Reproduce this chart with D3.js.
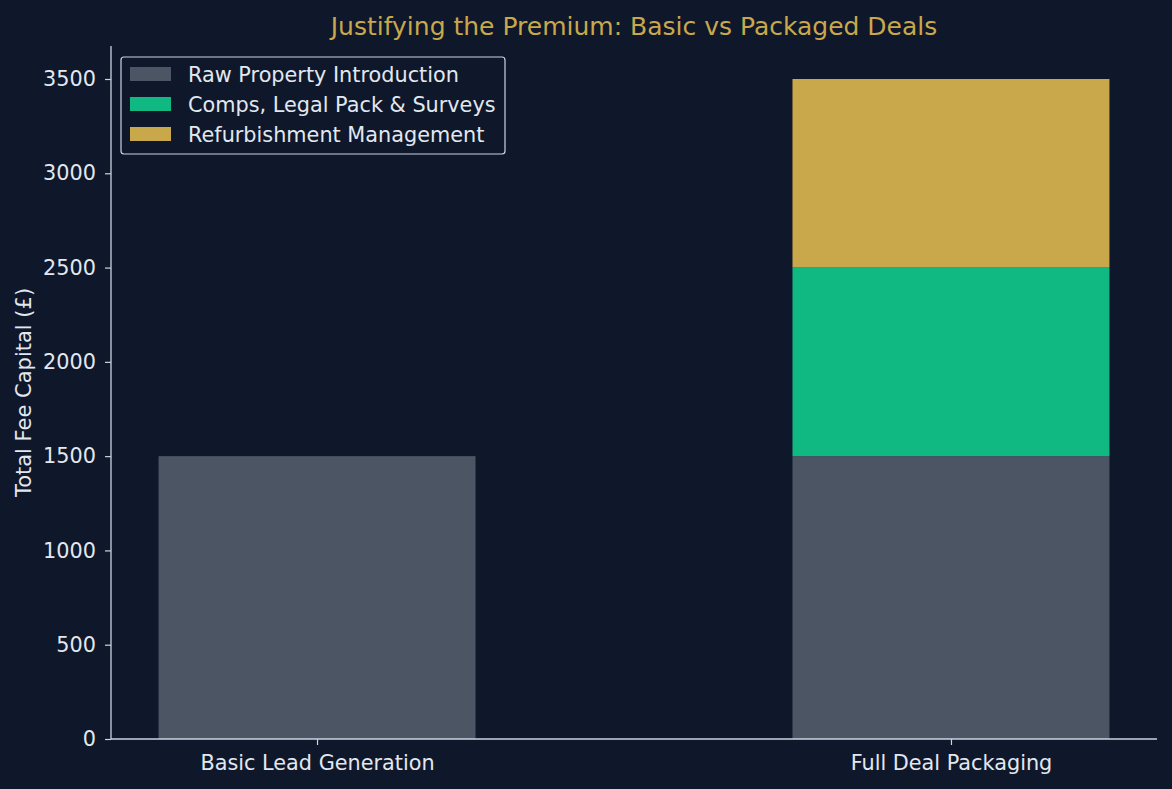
<!DOCTYPE html>
<html><head><meta charset="utf-8">
<script src="https://cdn.jsdelivr.net/npm/d3@7"></script>
<style>
html,body{margin:0;padding:0;background:#0f172a;}
svg{display:block;font-family:"DejaVu Sans",sans-serif;}
</style></head>
<body>
<svg id="chart" width="1172" height="789"></svg>
<script>
const categories = ["Basic Lead Generation", "Full Deal Packaging"];
const seriesNames = ["Raw Property Introduction", "Comps, Legal Pack & Surveys", "Refurbishment Management"];
const rawIntro = [1500, 1500];
const compsLegal = [0, 1000];
const refurb = [0, 1000];
const yTicks = [0, 500, 1000, 1500, 2000, 2500, 3000, 3500];
const colors = ["#4b5563", "#10b981", "#c9a84c"];

const W = 1172, H = 789;
const m = {left: 111, right: 1157, top: 46, bottom: 739};
const svg = d3.select("#chart");
svg.append("rect").attr("width", W).attr("height", H).attr("fill", "#0f172a");

const series = [rawIntro, compsLegal, refurb];
const rows = categories.map((c, i) => {
  const o = {cat: c};
  seriesNames.forEach((s, j) => o[s] = series[j][i]);
  return o;
});
const stacked = d3.stack().keys(seriesNames)(rows);
const maxV = d3.max(stacked[stacked.length - 1], d => d[1]);

const y = d3.scaleLinear().domain([0, maxV * 1.05]).range([m.bottom, m.top]);
const xc = d3.scaleLinear().domain([-0.325, categories.length - 1 + 0.325]).range([m.left, m.right]);
const barW = xc(0.5) - xc(0);

const g = svg.append("g");
stacked.forEach((layer, j) => {
  g.selectAll(null).data(layer.filter(d => d[1] - d[0] > 0)).enter().append("rect")
    .attr("x", d => xc(categories.indexOf(d.data.cat)) - barW / 2)
    .attr("width", barW)
    .attr("y", d => y(d[1]))
    .attr("height", d => y(d[0]) - y(d[1]))
    .attr("fill", colors[j]);
});

const txt = "#e2e8f0", spine = "#cbd5e1";
const FS = 20.8;
// y axis
const yAxis = d3.axisLeft(y).tickValues(yTicks).tickSize(6).tickPadding(9).tickFormat(d3.format("d"));
const ya = svg.append("g").attr("transform", `translate(${m.left},0)`).call(yAxis);
ya.attr("font-family", "DejaVu Sans").attr("font-size", FS);
ya.select(".domain").attr("stroke", spine).attr("stroke-width", 1.3).attr("d", `M0,${m.top}V${m.bottom}`);
ya.selectAll(".tick line").attr("stroke", spine).attr("stroke-width", 1.2);
ya.selectAll(".tick text").attr("fill", txt);

// x axis
const xAxis = d3.axisBottom(xc).tickValues(categories.map((c, i) => i)).tickSize(6).tickPadding(10).tickFormat(i => categories[i]);
const xa = svg.append("g").attr("transform", `translate(0,${m.bottom})`).call(xAxis);
xa.attr("font-family", "DejaVu Sans").attr("font-size", FS);
xa.select(".domain").attr("stroke", spine).attr("stroke-width", 1.3).attr("d", `M${m.left},0H${m.right}`);
xa.selectAll(".tick line").attr("stroke", spine).attr("stroke-width", 1.2);
xa.selectAll(".tick text").attr("fill", txt);

// title
svg.append("text").attr("x", (m.left + m.right) / 2).attr("y", 35).attr("text-anchor", "middle")
  .attr("fill", "#c9a84c").attr("font-size", 25).text("Justifying the Premium: Basic vs Packaged Deals");
// y label
svg.append("text").attr("transform", `translate(31,${(m.top + m.bottom) / 2}) rotate(-90)`).attr("text-anchor", "middle")
  .attr("fill", txt).attr("font-size", 21).text("Total Fee Capital (£)");

// legend
const lg = svg.append("g");
lg.append("rect").attr("x", 121).attr("y", 57).attr("width", 384).attr("height", 97).attr("rx", 3)
  .attr("fill", "#0f172a").attr("stroke", "#cbd5e1").attr("stroke-width", 1.2);
seriesNames.forEach((s, j) => {
  const cy = 74 + j * 30;
  lg.append("rect").attr("x", 130).attr("y", cy - 7).attr("width", 41).attr("height", 14).attr("fill", colors[j]);
  lg.append("text").attr("x", 188).attr("y", cy + 8).attr("fill", txt).attr("font-size", FS).text(s);
});
</script>
</body></html>
